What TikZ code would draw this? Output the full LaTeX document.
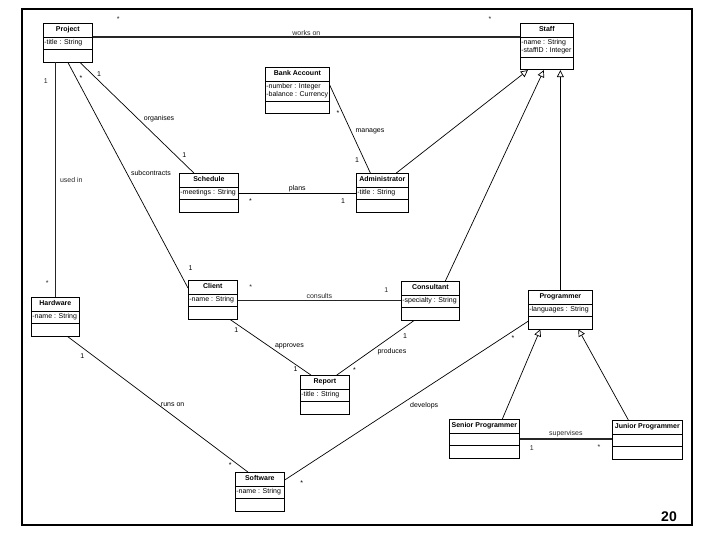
\documentclass[tikz,border=0pt]{standalone}
\usepackage{fontspec}
\setmainfont{Liberation Sans}
\usepackage{tikz}
\usetikzlibrary{shapes.multipart, arrows.meta, positioning, calc}
\newcommand{\cname}[1]{\textbf{\fontsize{7}{8}\selectfont\strut #1}}
\tikzstyle{assoc}   = [line width=0.7pt]
\tikzstyle{heavy}   = [line width=1.3pt, black!85]
\tikzstyle{inherit} = [line width=0.7pt, -{Triangle[open, length=7pt, width=7pt]}]

\begin{document}
\begin{tikzpicture}[x=1pt, y=-1pt,
    umlclass/.style={rectangle split, rectangle split parts=3, draw, fill=white,
                     anchor=north west, line width=0.7pt, align=left,
                     font=\fontsize{7}{7.8}\selectfont, inner xsep=1pt, inner ysep=2.5pt,
                     rectangle split empty part height=7pt,
                     rectangle split part align={center,left,left}},
    lbl/.style={font=\fontsize{7}{8}\selectfont, inner sep=1pt},
    mult/.style={font=\fontsize{7}{8}\selectfont, inner sep=1pt}]

  \useasboundingbox (0,0) rectangle (720,540);
  \draw[line width=1.1pt] (22,9) rectangle (692,525);
  \node[font=\bfseries\fontsize{14}{16}\selectfont] (pagenum) at (669,517) {20};

  \node[umlclass, minimum width=49] (project) at (43,23)
    {\cname{Project}\nodepart{two}-title : String\nodepart{three}};
  \node[umlclass, minimum width=53] (staff) at (520,23)
    {\cname{Staff}\nodepart{two}-name : String\\-staffID : Integer\nodepart{three}};
  \node[umlclass, minimum width=64] (bank) at (265,67)
    {\cname{Bank Account}\nodepart{two}-number : Integer\\-balance : Currency\nodepart{three}};
  \node[umlclass, minimum width=52] (admin) at (356,173)
    {\cname{Administrator}\nodepart{two}-title : String\nodepart{three}};
  \node[umlclass, minimum width=59] (schedule) at (179,173)
    {\cname{Schedule}\nodepart{two}-meetings : String\nodepart{three}};
  \node[umlclass, minimum width=48] (hardware) at (31,297)
    {\cname{Hardware}\nodepart{two}-name : String\nodepart{three}};
  \node[umlclass, minimum width=49] (client) at (188,280)
    {\cname{Client}\nodepart{two}-name : String\nodepart{three}};
  \node[umlclass, minimum width=58] (consultant) at (401,281)
    {\cname{Consultant}\nodepart{two}-specialty : String\nodepart{three}};
  \node[umlclass, minimum width=64] (programmer) at (528,290)
    {\cname{Programmer}\nodepart{two}-languages : String\nodepart{three}};
  \node[umlclass, minimum width=49] (report) at (300,375)
    {\cname{Report}\nodepart{two}-title : String\nodepart{three}};
  \node[umlclass, minimum width=49] (software) at (235,472)
    {\cname{Software}\nodepart{two}-name : String\nodepart{three}};
  \node[umlclass, minimum width=70] (senior) at (449,419)
    {\cname{Senior Programmer}\nodepart{two}\nodepart{three}};
  \node[umlclass, minimum width=70] (junior) at (612,420)
    {\cname{Junior Programmer}\nodepart{two}\nodepart{three}};

  \draw[heavy] (project.one split east) -- node[lbl, above]{works on}
    node[mult, pos=0.06, yshift=18pt]{*} node[mult, pos=0.93, yshift=18pt]{*}
    (project.one split east -| staff.west);
  \draw[heavy] (hardware.north |- project.south) -- node[lbl, pos=0.5, anchor=west, xshift=3pt]{used in}
    node[mult, pos=0.08, anchor=east, xshift=-6pt]{1} node[mult, pos=0.94, anchor=east, xshift=-5pt]{*}
    (hardware.north);
  \draw[assoc] ([xshift=12pt]project.south) -- node[lbl, pos=0.55, anchor=south west]{organises}
    node[mult, pos=0.14, anchor=south west]{1} node[mult, pos=0.87, anchor=south west, xshift=2pt]{1}
    ([xshift=-15pt]schedule.north);
  \draw[assoc] (project.south) -- node[lbl, pos=0.49, anchor=west, xshift=3pt]{subcontracts}
    node[mult, pos=0.07, anchor=west, xshift=2pt]{*} node[mult, pos=0.91, anchor=west, xshift=10pt]{1}
    ([yshift=-8pt]client.north west);
  \draw[assoc] (schedule.two east) -- node[lbl, above]{plans}
    node[mult, pos=0.1, below=4pt]{*} node[mult, pos=0.89, below=4pt]{1}
    (schedule.two east -| admin.west);
  \draw[assoc] ([yshift=-18pt]bank.north east) -- node[lbl, pos=0.53, anchor=west, xshift=3pt]{manages}
    node[mult, pos=0.32, anchor=east, xshift=-2pt]{*} node[mult, pos=0.85, anchor=east, xshift=-4pt]{1}
    ([xshift=-12pt]admin.north);
  \draw[heavy] (client.two east) -- node[lbl, above]{consults}
    node[mult, pos=0.08, above=9pt]{*} node[mult, pos=0.91, above=6pt]{1}
    (client.two east -| consultant.west);
  \draw[assoc] ([xshift=17pt]client.south) -- node[lbl, pos=0.48, anchor=west, xshift=5pt]{approves}
    node[mult, pos=0.12, anchor=north east]{1} node[mult, pos=0.89, anchor=east, xshift=-3pt]{1}
    ([xshift=-14pt]report.north);
  \draw[assoc] ([xshift=-16pt]consultant.south) -- node[lbl, pos=0.57, anchor=west, xshift=6pt]{produces}
    node[mult, pos=0.28, anchor=west, xshift=9pt]{1} node[mult, pos=0.91, anchor=west, xshift=8pt]{*}
    ([xshift=12pt]report.north);
  \draw[assoc] ([xshift=12pt]hardware.south) -- node[lbl, pos=0.5, anchor=west, xshift=2pt]{runs on}
    node[mult, pos=0.145, anchor=east, xshift=-8pt]{1} node[mult, pos=0.95, anchor=east, xshift=-6pt]{*}
    ([xshift=-12pt]software.north);
  \draw[assoc] ([yshift=8pt]programmer.south west) -- node[lbl, pos=0.49, anchor=north west, yshift=-2pt]{develops}
    node[mult, pos=0.106, anchor=west, xshift=8pt]{*} node[mult, pos=0.93, anchor=north, yshift=-10pt]{*}
    ([yshift=-8pt]software.north east);
  \draw[heavy] ([yshift=-20pt]senior.north east) -- node[lbl, above]{supervises}
    node[mult, pos=0.13, below=5pt]{1} node[mult, pos=0.86, below=4pt]{*}
    ([yshift=-20pt]senior.north east -| junior.west);

  \draw[inherit] ([xshift=14pt]admin.north) -- ([xshift=-19pt]staff.south);
  \draw[inherit] ([xshift=15pt]consultant.north) -- ([xshift=-3pt]staff.south);
  \draw[inherit] (programmer.north) -- (programmer.north |- staff.south);
  \draw[inherit] ([xshift=18pt]senior.north) -- ([xshift=-20pt]programmer.south);
  \draw[inherit] ([xshift=-19pt]junior.north) -- ([xshift=18pt]programmer.south);
\end{tikzpicture}
\end{document}
